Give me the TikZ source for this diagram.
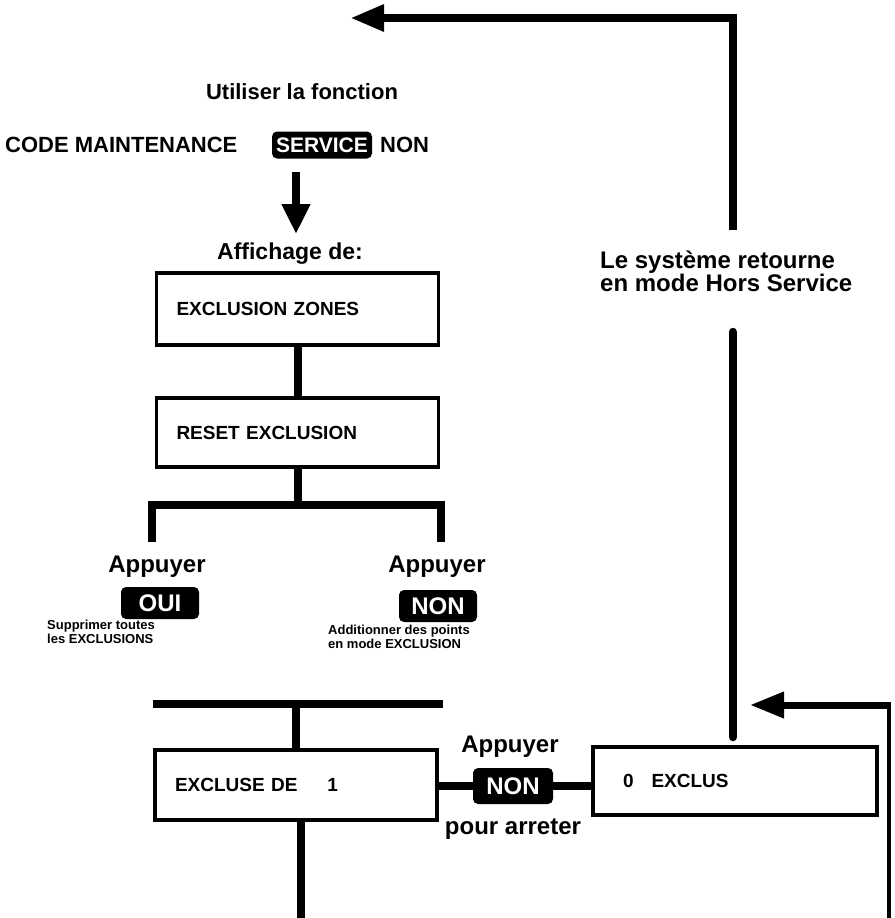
\documentclass[tikz,border=0pt]{standalone}
\usepackage{fontspec}
\setmainfont{Liberation Sans}
\usetikzlibrary{arrows.meta,calc}
\newcommand{\fsz}[1]{\fontsize{#1}{#1}\selectfont\bfseries}
\begin{document}
\begin{tikzpicture}[x=1pt,y=-1pt,
  box/.style={draw, line width=3.5pt, minimum width=282pt, minimum height=70pt,
    inner xsep=20pt, text width=242pt, align=left, font=\fsz{19}},
  key/.style={fill=black, text=white, rounded corners=5pt, inner sep=0pt,
    minimum width=78pt, minimum height=32pt, font=\fsz{24}},
  lbl/.style={font=\fsz{24}, inner sep=0pt},
  note/.style={font=\fontsize{13}{14}\selectfont\bfseries, align=left, inner sep=0pt},
  wire/.style={line width=8.5pt},
  thinwire/.style={line width=4pt},
  bigtip/.style={-{Triangle[length=34pt,width=25pt]}}]
\useasboundingbox (0,0) rectangle (894,918);

% heading and selected function
\node[lbl, font=\fsz{22}] (util) at (302,92) {Utiliser la fonction};
\node[font=\fsz{22}, inner sep=0pt, anchor=west] (code) at (5,145) {CODE MAINTENANCE};
\node[key, font=\fsz{21}, minimum width=100pt, minimum height=27pt] (service) at (322,145) {SERVICE};
\node[font=\fsz{22}, inner sep=0pt, anchor=west] (nontop) at (380,145) {NON};
\coordinate (arrstart) at (296,172);
\coordinate (arrend) at (296,234);
\draw[wire, -{Triangle[length=30pt,width=27pt]}] (arrstart) -- (arrend);

% display sequence
\node[lbl, font=\fsz{23}] (affich) at (290,254) {Affichage de:};
\node[box, minimum height=72pt] (zones) at (297.5,309) {EXCLUSION ZONES};
\node[box, minimum height=69pt] (reset) at (297.5,432.5) {RESET EXCLUSION};
\draw[wire] (zones.south -| 298,0) -- (reset.north -| 298,0);

% branch into the two choices
\coordinate (splitL) at (152,542);
\coordinate (splitR) at (441,542);
\coordinate (splitbar) at (298,505);
\draw[wire] (reset.south -| splitbar) -- (splitbar);
\draw[wire] (splitL) -- (splitL |- splitbar) -- (splitR |- splitbar) -- (splitR);

\node[lbl] (appL) at (157,567) {Appuyer};
\node[key] (oui) at (160,603) {OUI};
\node[note, anchor=north west] (supp) at (47,620) {Supprimer toutes\\les EXCLUSIONS};

\node[lbl] (appR) at (437,567) {Appuyer};
\node[key] (nonR) at (438,606) {NON};
\node[note, anchor=north west] (addit) at (328,625) {Additionner des points\\en mode EXCLUSION};

% merge back into the exclusion display
\coordinate (mergeL) at (153,704);
\coordinate (mergeR) at (443,704);
\draw[wire] (mergeL) -- (mergeR);
\node[box] (excl) at (296,785) {EXCLUSE DE\hspace{30pt}1};
\draw[wire] (excl.north -| 296,0) -- (296,704);
\coordinate (bottom) at (301,918);
\draw[wire] (excl.south -| bottom) -- (bottom);

\node[box, minimum width=284pt, minimum height=68pt, inner xsep=30pt, text width=224pt] (zero) at (735,781) {0\hspace{18pt}EXCLUS};
\draw[wire] (excl.east |- 0,786) -- (zero.west |- 0,786);
\node[key, minimum width=80pt, minimum height=36pt] (nonM) at (513,786) {NON};
\node[lbl] (appM) at (510,747) {Appuyer};
\node[lbl] (stop) at (513,829) {pour arreter};

% return to out-of-service mode
\node[font=\fontsize{24}{23}\selectfont\bfseries, align=left, inner sep=0pt, anchor=north west] (sys) at (600,251) {Le système retourne\\en mode Hors Service};
\coordinate (upper) at (733,230);
\coordinate (topend) at (350,18);
\draw[wire, bigtip] (upper) |- (topend);
\coordinate (lowtop) at (733,332);
\coordinate (lowbot) at (733,737);
\draw[wire, line cap=round] (lowtop) -- (lowbot);

% loop coming back from below
\coordinate (loopbot) at (889,918);
\coordinate (loopcorner) at (889,705);
\coordinate (loopend) at (750,705);
\draw[thinwire] (loopbot) -- (loopcorner);
\draw[line width=7pt, bigtip] ($(loopcorner)+(2,0)$) -- (loopend);
\end{tikzpicture}
\end{document}
